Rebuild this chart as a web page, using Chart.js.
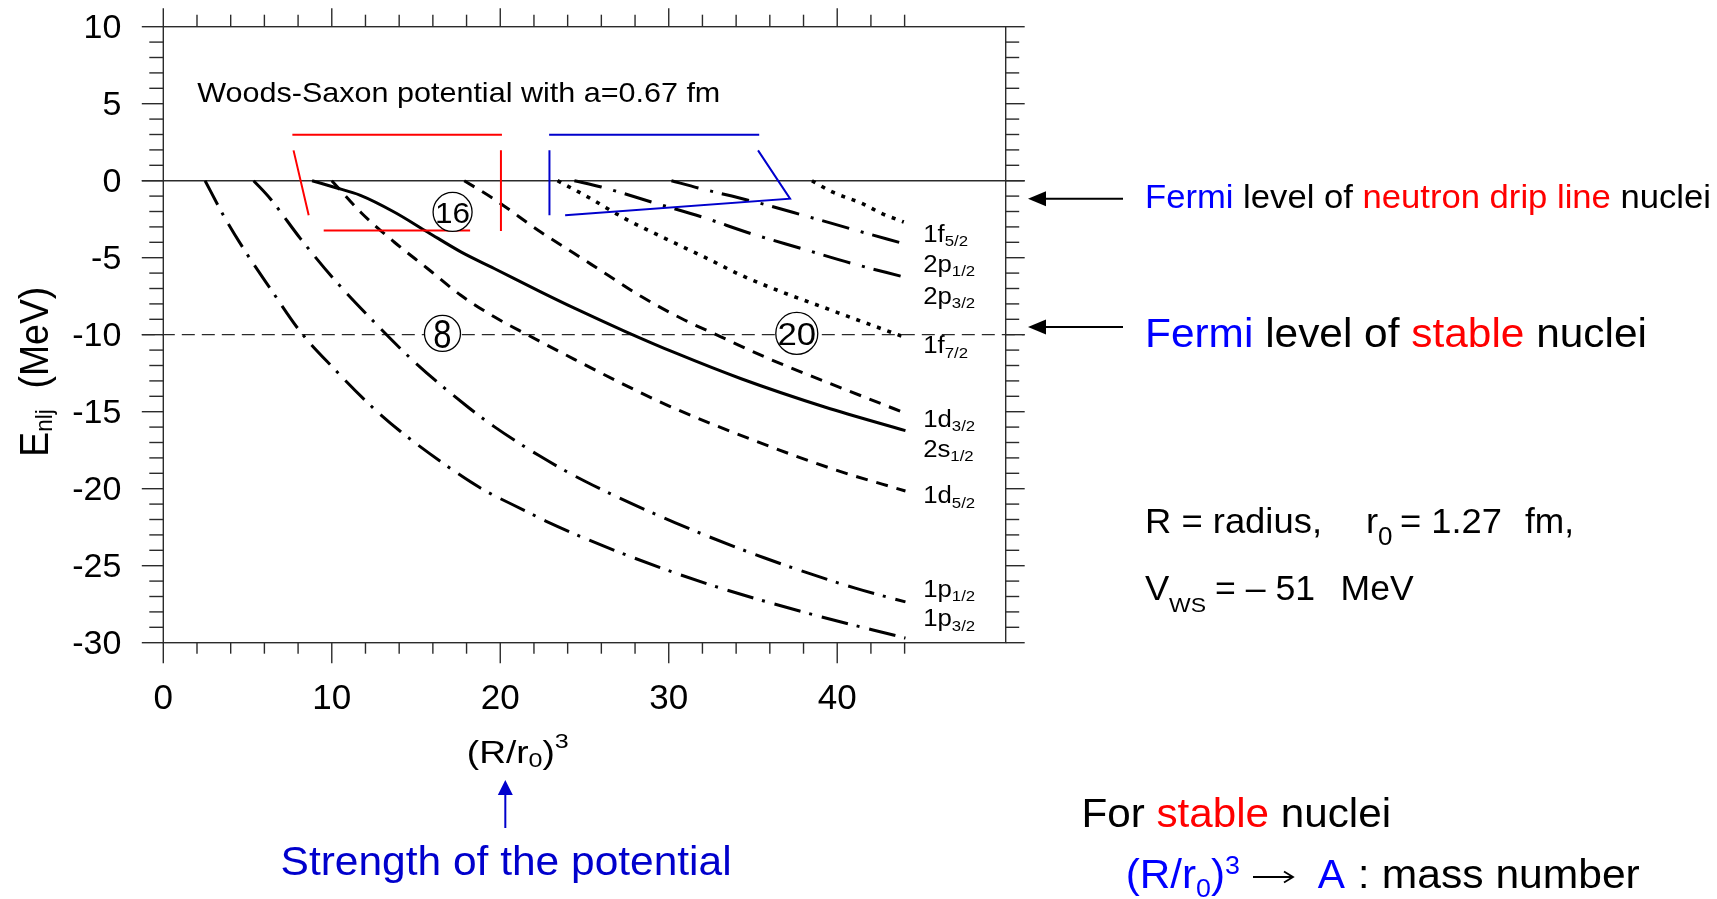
<!DOCTYPE html>
<html>
<head>
<meta charset="utf-8">
<title>Woods-Saxon single-particle levels</title>
<script src="https://cdn.jsdelivr.net/npm/chart.js@4.4.1/dist/chart.umd.min.js"></script>
<style>
  html, body { margin: 0; padding: 0; background: #fff; }
  #wrap { width: 1717px; height: 899px; }
</style>
</head>
<body>
<div id="wrap"><canvas id="levels" width="1717" height="899"></canvas></div>
<script>
// single-particle energies E_nlj (MeV) against (R/r0)^3
const x1p32 = [2.48, 3.57, 4.76, 6.35, 8.14, 10.12, 12.5, 14.1, 16.47, 18.85, 21.6, 22.7, 27.0, 32.35, 38.3, 44.05];
const e1p32 = [0, -2.25, -4.41, -7.0, -9.81, -12.19, -14.8, -16.3, -18.24, -19.97, -21.5, -22.1, -24.1, -26.2, -28.1, -29.7];

const x1p12 = [5.36, 6.35, 8.14, 10.1, 12.5, 14.9, 18.06, 19.64, 22.3, 25.0, 30.36, 35.7, 41.07, 44.05];
const e1p12 = [0, -1.17, -3.76, -6.36, -9.16, -11.76, -14.68, -15.97, -17.85, -19.5, -22.2, -24.5, -26.46, -27.35];

const x1d52 = [10.0, 11.7, 13.7, 15.68, 17.66, 19.64, 21.6, 24.4, 27.0, 29.96, 35.1, 39.9, 44.05];
const e1d52 = [0, -2.03, -3.98, -5.7, -7.44, -8.84, -10.0, -11.6, -13.05, -14.6, -16.88, -18.78, -20.15];

const x2s12 = [8.83, 10.1, 11.7, 13.7, 15.68, 17.66, 19.64, 22.4, 24.4, 27.4, 30.36, 34.3, 39.3, 44.05];
const e2s12 = [0, -0.41, -0.95, -2.03, -3.33, -4.62, -5.7, -7.22, -8.28, -9.78, -11.17, -12.86, -14.71, -16.23];

const x1d32 = [17.86, 19.6, 22.4, 24.4, 26.4, 28.4, 30.76, 33.1, 35.9, 39.3, 42.66, 44.05];
const e1d32 = [0, -1.17, -3.33, -4.73, -6.14, -7.54, -8.95, -10.14, -11.54, -13.05, -14.5, -15.1];

const x1f72 = [23.4, 25.2, 27.4, 29.8, 32.1, 34.3, 36.7, 39.1, 41.5, 43.95];
const e1f72 = [0, -1.06, -2.46, -3.76, -4.95, -6.14, -7.22, -8.19, -9.16, -10.14];

const x2p32 = [24.4, 26.0, 28.97, 31.95, 34.9, 37.9, 40.9, 43.95];
const e2p32 = [0, -0.41, -1.38, -2.35, -3.44, -4.41, -5.38, -6.25];

const x2p12 = [30.16, 31.75, 34.92, 38.0, 40.98, 43.95];
const e2p12 = [0, -0.47, -1.32, -2.25, -3.18, -4.09];

const x1f52 = [38.5, 39.7, 41.5, 42.66, 43.95];
const e1f52 = [0, -0.73, -1.49, -2.14, -2.68];

// hand-drawn brackets (null = pen up)
const redX = [7.66, 20.1, 20.1, 7.73, 8.63, 8.63, 20.04, 20.04, 20.04, 9.52, 18.21];
const redY = [2.98, 2.98, null, 1.97, -2.25, null, 1.97, -3.26, null, -3.24, -3.24];
const blueX = [22.9, 35.37, 35.37, 22.92, 22.92, 22.92, 35.3, 37.2, 23.85];
const blueY = [2.98, 2.98, null, 1.97, -2.25, null, 1.97, -1.17, -2.25];

const levelNames = [['1f', '5/2'], ['2p', '1/2'], ['2p', '3/2'], ['1f', '7/2'], ['1d', '3/2'],
                    ['2s', '1/2'], ['1d', '5/2'], ['1p', '1/2'], ['1p', '3/2']];
const magicNumbers = ['16', '8', '20'];
const fermiStable = -10;
const fermiDrip = -1.17;

const xLabelMax = 40;   // bottom labels stop at 40
const xTickLast = 44;   // top/bottom minor ticks stop at 44

const FONT = "'Liberation Sans', Arial, Helvetica, sans-serif";
const BLUE = '#0000ff';
const DARKBLUE = '#0000cc';
const RED = '#ff0000';

function pts(xs, ys) {
  return xs.map((x, i) => ({ x: x, y: ys[i] }));
}

function curve(label, xs, ys, dash, width) {
  return {
    label: label,
    data: pts(xs, ys),
    borderColor: '#000',
    borderWidth: width || 3,
    borderDash: dash,
    borderCapStyle: 'butt',
    pointRadius: 0,
    fill: false,
    cubicInterpolationMode: 'monotone'
  };
}

function bracket(label, xs, ys, color) {
  return {
    label: label,
    data: pts(xs, ys),
    borderColor: color,
    borderWidth: 2,
    pointRadius: 0,
    fill: false,
    tension: 0,
    spanGaps: false
  };
}

const DASH = [12, 9];
const DOT = [4, 7];
const DASHDOT = [27, 9, 3, 10];
const LONGDASHDOT = [28, 12, 3, 9];

function P(t, s, c, dy) {
  return { t: t, s: s, c: c || '#000', dy: dy || 0 };
}

// draw a run of text pieces on one baseline, optionally stretched to a width
function richText(ctx, parts, x, y, opt) {
  opt = opt || {};
  ctx.save();
  let natural = 0;
  parts.forEach(p => { ctx.font = p.s + 'px ' + FONT; natural += ctx.measureText(p.t).width; });
  const sx = opt.width ? opt.width / natural : (opt.sx || 1);
  ctx.translate(x, y);
  ctx.scale(sx, 1);
  ctx.textAlign = 'left';
  ctx.textBaseline = 'alphabetic';
  let cx = 0;
  parts.forEach(p => {
    ctx.font = p.s + 'px ' + FONT;
    ctx.fillStyle = p.c;
    ctx.fillText(p.t, cx, p.dy);
    cx += ctx.measureText(p.t).width;
  });
  ctx.restore();
}

function seg(ctx, x1, y1, x2, y2) {
  ctx.beginPath();
  ctx.moveTo(x1, y1);
  ctx.lineTo(x2, y2);
  ctx.stroke();
}

function arrow(ctx, x1, y1, x2, y2, color, head, half) {
  const ang = Math.atan2(y2 - y1, x2 - x1);
  const bx = x2 - head * Math.cos(ang), by = y2 - head * Math.sin(ang);
  ctx.save();
  ctx.strokeStyle = color;
  ctx.fillStyle = color;
  ctx.lineWidth = 2;
  seg(ctx, x1, y1, bx, by);
  ctx.beginPath();
  ctx.moveTo(x2, y2);
  ctx.lineTo(bx - half * Math.sin(ang), by + half * Math.cos(ang));
  ctx.lineTo(bx + half * Math.sin(ang), by - half * Math.cos(ang));
  ctx.closePath();
  ctx.fill();
  ctx.restore();
}

const levelPlot = {
  id: 'levelPlot',
  beforeDatasetsDraw(chart) {
    const { ctx, chartArea: a, scales: { x, y } } = chart;
    ctx.save();
    ctx.strokeStyle = '#2b2b2b';
    ctx.lineWidth = 1.4;
    ctx.strokeRect(a.left, a.top, a.right - a.left, a.bottom - a.top);
    for (let v = y.min; v <= y.max; v++) {
      const py = y.getPixelForValue(v);
      const major = v % 5 === 0;
      seg(ctx, a.left - (major ? 21.5 : 14), py, a.left, py);
      seg(ctx, a.right, py, a.right + (major ? 19 : 13.5), py);
    }
    for (let v = x.min; v <= xTickLast; v += 2) {
      const px = x.getPixelForValue(v);
      const major = v % 10 === 0;
      seg(ctx, px, a.top - (major ? 18.5 : 12), px, a.top);
      seg(ctx, px, a.bottom, px, a.bottom + (major ? 20.5 : 11));
    }
    const y0 = y.getPixelForValue(0);
    seg(ctx, a.left - 21.5, y0, a.right + 19, y0);
    ctx.setLineDash([13, 7]);
    ctx.lineWidth = 1.2;
    const yf = y.getPixelForValue(fermiStable);
    seg(ctx, a.left - 21.5, yf, a.right + 19, yf);
    ctx.restore();
  },
  afterDatasetsDraw(chart) {
    const { ctx, scales: { x, y } } = chart;
    // circled shell-closure numbers
    const circles = [
      { x: 17.17, e: -2.03, r: 19.5, size: 30, sx: 1.05 },
      { x: 16.57, e: -9.92, r: 18, size: 40, sx: 0.82 },
      { x: 37.6, e: -9.92, r: 21, size: 31, sx: 1.12 }
    ];
    circles.forEach((c, i) => {
      const cx = x.getPixelForValue(c.x), cy = y.getPixelForValue(c.e);
      ctx.save();
      ctx.beginPath();
      ctx.arc(cx, cy, c.r, 0, Math.PI * 2);
      ctx.fillStyle = '#fff';
      ctx.fill();
      ctx.strokeStyle = '#000';
      ctx.lineWidth = 1.3;
      ctx.stroke();
      ctx.font = c.size + 'px ' + FONT;
      const w = ctx.measureText(magicNumbers[i]).width * c.sx;
      ctx.restore();
      richText(ctx, [P(magicNumbers[i], c.size)], cx - w / 2, cy + 0.358 * c.size, { sx: c.sx });
    });
    // level labels at the right end of the curves
    const labelE = [-3.98, -5.92, -7.98, -11.22, -15.97, -17.92, -20.95, -27.0, -28.94];
    const lx = x.getPixelForValue(45.1);
    levelNames.forEach((n, i) => {
      richText(ctx, [P(n[0], 23), P(n[1], 15, '#000', 4.5)], lx, y.getPixelForValue(labelE[i]), { sx: 1.12 });
    });
    richText(ctx, [P('Woods-Saxon potential with a=0.67 fm', 28)], 197.3, 101.7, { width: 523 });
  },
  afterDraw(chart) {
    const { ctx, scales: { x, y } } = chart;
    // y-axis title
    ctx.save();
    ctx.translate(48, 456.7);
    ctx.rotate(-Math.PI / 2);
    richText(ctx, [P('E', 40), P('nlj', 24, '#000', 4), P('  (MeV)', 40)], 0, 0, { width: 170 });
    ctx.restore();
    // x-axis title
    richText(ctx, [P('(R/r', 31), P('0', 21, '#000', 3.5), P(')', 31), P('3', 21, '#000', -15)], 466.8, 763.3, { width: 102 });

    // arrows towards the two Fermi levels
    arrow(ctx, 1123, y.getPixelForValue(fermiDrip), 1028, y.getPixelForValue(fermiDrip), '#000', 18, 7.5);
    arrow(ctx, 1123, y.getPixelForValue(-9.5), 1028, y.getPixelForValue(-9.5), '#000', 18, 7.5);
    richText(ctx, [P('Fermi', 33, BLUE), P(' level of ', 33), P('neutron drip line', 33, RED), P(' nuclei', 33)],
      1145, 208.3, { width: 566 });
    richText(ctx, [P('Fermi', 41, BLUE), P(' level of ', 41), P('stable', 41, RED), P(' nuclei', 41)],
      1145, 347, { width: 502 });

    richText(ctx, [P('R = radius,', 35)], 1145, 533, { width: 177 });
    richText(ctx, [P('r', 35), P('0', 25, '#000', 12)], 1366, 533, { sx: 1.04 });
    richText(ctx, [P('= 1.27', 35)], 1400, 533, { width: 102 });
    richText(ctx, [P('fm,', 35)], 1525, 533, { width: 49 });

    richText(ctx, [P('V', 35)], 1145, 600, { sx: 1.04 });
    richText(ctx, [P('WS', 21)], 1169, 612, { width: 37 });
    richText(ctx, [P('= \u2013 51', 35)], 1215, 600, { width: 100 });
    richText(ctx, [P('MeV', 35)], 1340.6, 600, { width: 73 });

    richText(ctx, [P('For ', 41), P('stable', 41, RED), P(' nuclei', 41)], 1081.4, 826.7, { width: 309.6 });

    richText(ctx, [P('(R/r', 41, BLUE), P('0', 26, BLUE, 8.7), P(')', 41, BLUE), P('3', 26, BLUE, -14)], 1125.7, 888, { width: 114.3 });
    // thin "maps to" arrow
    ctx.save();
    ctx.strokeStyle = '#000';
    ctx.lineWidth = 1.8;
    seg(ctx, 1253, 877, 1292, 877);
    ctx.beginPath();
    ctx.moveTo(1284, 871.5);
    ctx.lineTo(1293, 877);
    ctx.lineTo(1284, 882.5);
    ctx.stroke();
    ctx.restore();
    richText(ctx, [P('A', 41, BLUE)], 1317.8, 888, { width: 27.2 });
    richText(ctx, [P(':', 41)], 1358, 888);
    richText(ctx, [P('mass number', 41)], 1381.8, 888, { width: 258 });

    // strength arrow under the x axis
    const ax = x.getPixelForValue(20.3);
    arrow(ctx, ax, 828, ax, 780, DARKBLUE, 15, 7.5);
    richText(ctx, [P('Strength of the potential', 41, DARKBLUE)], 280.6, 875, { width: 451 });
  }
};

const ctx = document.getElementById('levels').getContext('2d');

new Chart(ctx, {
  type: 'line',
  data: {
    datasets: [
      bracket('drip 16', redX, redY, RED),
      bracket('drip 20', blueX, blueY, DARKBLUE),
      curve('1p3/2', x1p32, e1p32, DASHDOT),
      curve('1p1/2', x1p12, e1p12, DASHDOT),
      curve('1d5/2', x1d52, e1d52, DASH),
      curve('2s1/2', x2s12, e2s12, []),
      curve('1d3/2', x1d32, e1d32, DASH),
      curve('1f7/2', x1f72, e1f72, DOT, 3.6),
      curve('2p3/2', x2p32, e2p32, LONGDASHDOT),
      curve('2p1/2', x2p12, e2p12, LONGDASHDOT),
      curve('1f5/2', x1f52, e1f52, DOT, 3.6)
    ]
  },
  options: {
    responsive: false,
    animation: false,
    devicePixelRatio: 1,
    events: [],
    layout: {
      padding: { left: 0, top: 26.7, right: 1717 - 1005.7, bottom: 0 }
    },
    scales: {
      x: {
        type: 'linear',
        min: 0,
        max: 50,
        afterFit: (s) => { s.height = 899 - 642.7; },
        border: { display: false },
        grid: { drawOnChartArea: false, tickLength: 20, tickColor: 'rgba(0,0,0,0)' },
        ticks: {
          stepSize: 10,
          autoSkip: false,
          maxRotation: 0,
          padding: 16,
          color: '#000',
          font: { family: FONT, size: 35 },
          callback: (v) => (v <= xLabelMax ? v : '')
        }
      },
      y: {
        min: -30,
        max: 10,
        afterFit: (s) => { s.width = 163.3; },
        border: { display: false },
        grid: { drawOnChartArea: false, tickLength: 42, tickColor: 'rgba(0,0,0,0)' },
        ticks: {
          stepSize: 5,
          padding: 0,
          labelOffset: 2,
          color: '#000',
          font: { family: FONT, size: 34 }
        }
      }
    },
    plugins: {
      legend: { display: false },
      tooltip: { enabled: false }
    }
  },
  plugins: [levelPlot]
});
</script>
</body>
</html>
